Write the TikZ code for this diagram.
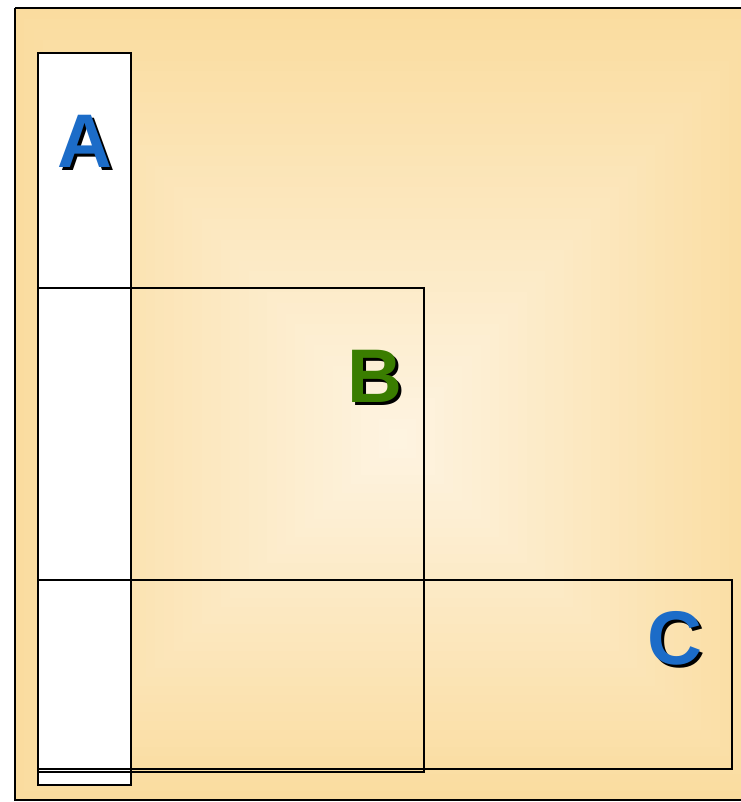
\documentclass[tikz,border=0pt]{standalone}
\usepackage{fontspec}
\setmainfont{Liberation Sans}
\definecolor{edgeC}{HTML}{FADC9F}
\definecolor{centerC}{HTML}{FEF4E2}
\definecolor{letterBlue}{RGB}{28,108,200}
\definecolor{letterGreen}{RGB}{58,125,0}
\tikzset{
  box/.style={draw=black, line width=2.6pt},
  letter/.style={font=\fontsize{76}{76}\selectfont\bfseries, inner sep=0pt, anchor=center},
}
\newcommand{\shadowtext}[2]{%
  \makebox[0pt][l]{\hspace{3pt}\raisebox{-3pt}{\textcolor{black}{#2}}}\textcolor{#1}{#2}}
\begin{document}
\begin{tikzpicture}[x=1pt,y=-1pt]
\useasboundingbox (0,0) rectangle (740,802);
% gradient background
\foreach \i in {0,...,40}{
  \pgfmathsetmacro{\t}{\i/41}
  \pgfmathsetmacro{\xa}{15+\t*(398-15)}
  \pgfmathsetmacro{\ya}{8+\t*(440-8)}
  \pgfmathsetmacro{\xb}{775-\t*(775-398)}
  \pgfmathsetmacro{\yb}{800-\t*(800-440)}
  \pgfmathsetmacro{\p}{100*\t}
  \fill[centerC!\p!edgeC] (\xa,\ya) rectangle (\xb,\yb);
}
\draw[box] (15,8) -- (745,8) (15,8) -- (15,800) -- (745,800);
% A
\draw[box, fill=white] (38,53) rectangle (131,785);
% B
\draw[box] (38,288) rectangle (424,772);
% C
\draw[box] (38,580) rectangle (732,769);
\node[letter] (LA) at (85,143) {\shadowtext{letterBlue}{A}};
\node[letter] (LB) at (375,378) {\shadowtext{letterGreen}{B}};
\node[letter] (LC) at (675,640) {\shadowtext{letterBlue}{C}};
\end{tikzpicture}
\end{document}
